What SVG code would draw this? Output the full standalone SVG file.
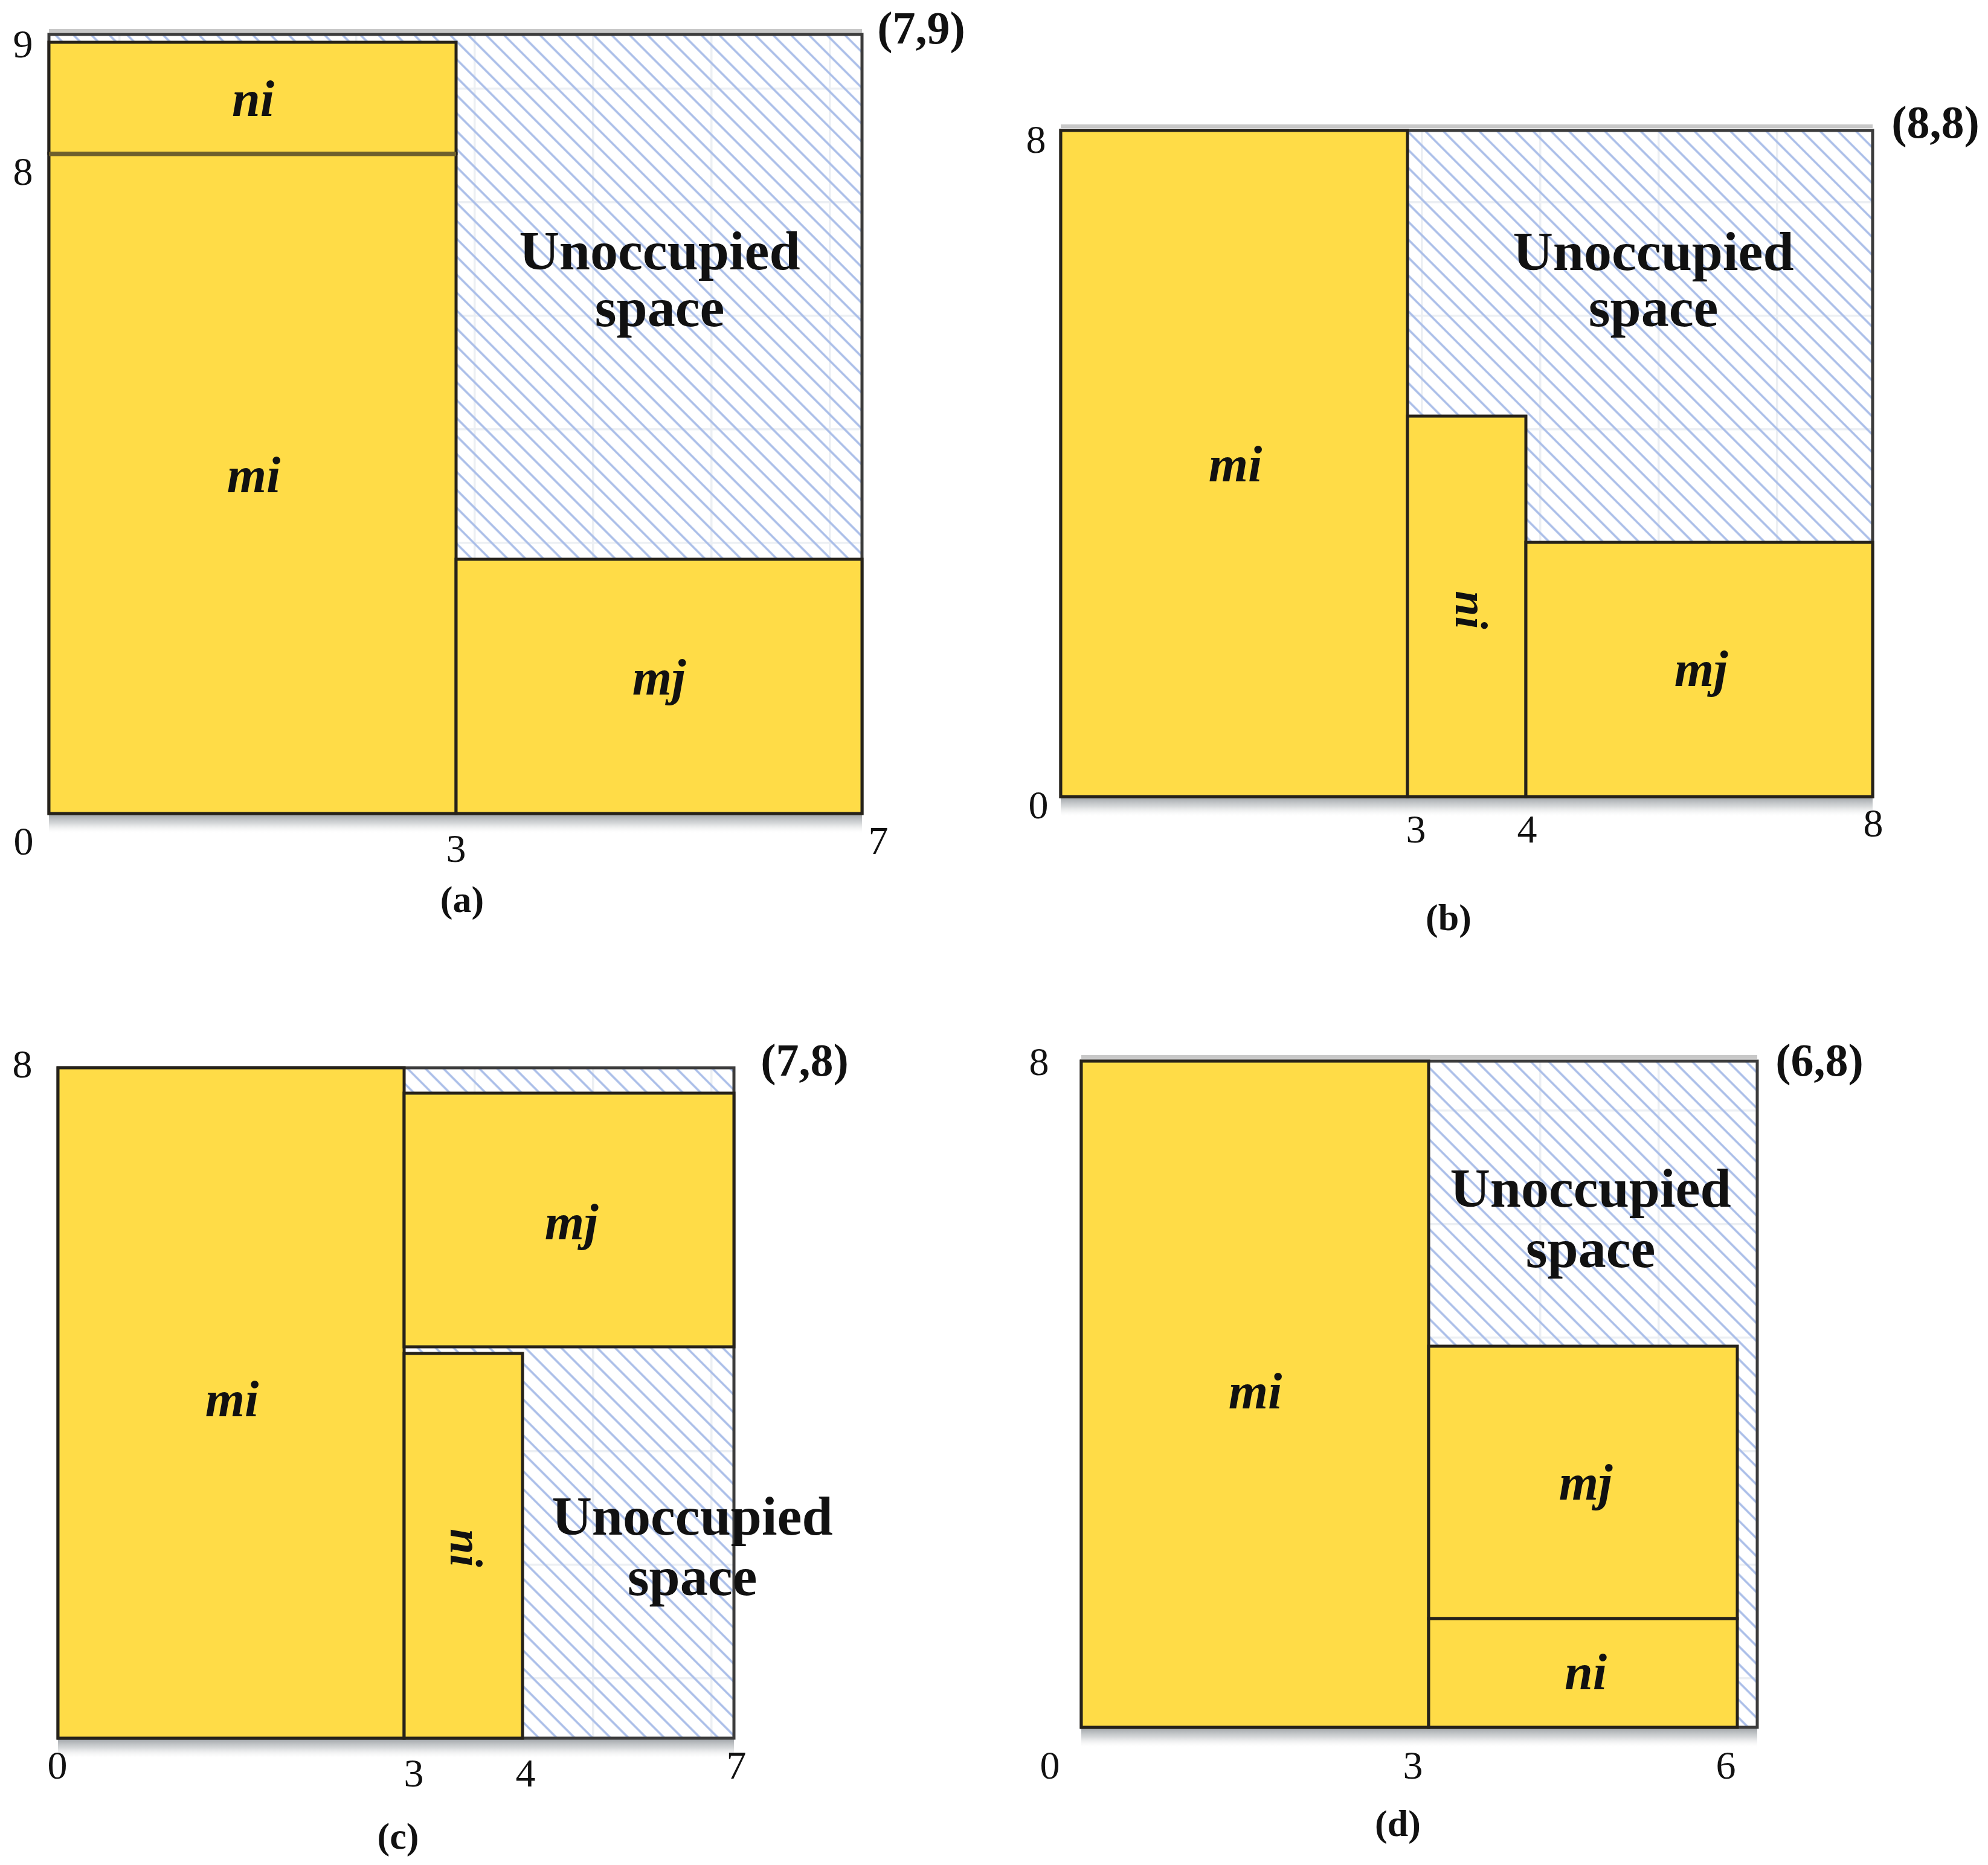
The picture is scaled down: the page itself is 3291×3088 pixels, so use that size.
<svg xmlns="http://www.w3.org/2000/svg" width="3291" height="3088" viewBox="0 0 3291 3088">
<style>
.bg{fill:#ffffff}
.grid{fill:url(#grid)}
.box{fill:url(#hatch);stroke:#3c3c3c;stroke-width:5}
.topline{stroke:#c8c8c8;stroke-width:6}
.shadow{fill:url(#shade)}
.item{fill:#FFDC47;stroke:#26221a;stroke-width:5}
.lbl{font-family:"Liberation Serif",serif;font-style:italic;font-weight:bold;font-size:84px;text-anchor:middle;fill:#111}
.unocc{font-family:"Liberation Serif",serif;font-weight:bold;font-size:92px;text-anchor:middle;fill:#111}
.ax{font-family:"Liberation Serif",serif;font-size:66px;text-anchor:middle;fill:#111}
.corner{font-family:"Liberation Serif",serif;font-weight:bold;font-size:76px;text-anchor:middle;fill:#111}
.cap{font-family:"Liberation Serif",serif;font-weight:bold;font-size:62px;text-anchor:middle;fill:#111}
</style>
<defs>
<pattern id="hatch" patternUnits="userSpaceOnUse" width="21" height="21" patternTransform="rotate(-45)">
<line x1="3" y1="-2" x2="3" y2="23" stroke="#a9bde8" stroke-width="3.5"/>
</pattern>
<pattern id="grid" patternUnits="userSpaceOnUse" width="196" height="188" x="0" y="-43">
<path d="M0 0H196M0 0V188" stroke="#eceff3" stroke-width="7" fill="none"/>
</pattern>
<linearGradient id="shade" x1="0" y1="0" x2="0" y2="1">
<stop offset="0" stop-color="#868c91" stop-opacity="0.85"/>
<stop offset="0.5" stop-color="#b9bdc0" stop-opacity="0.6"/>
<stop offset="1" stop-color="#e8e8e8" stop-opacity="0"/>
</linearGradient>
</defs>
<rect class="bg" x="0" y="0" width="3291" height="3088"/>

<g id="panel-a">
<rect class="shadow" x="81" y="1347" width="1346" height="32"/>
<line class="topline" x1="81" y1="51" x2="1427" y2="51"/>
<rect class="bg" x="81" y="57" width="1346" height="1290"/>
<rect class="grid" x="81" y="57" width="1346" height="1290"/>
<rect class="box" x="81" y="57" width="1346" height="1290"/>
<g id="a-mi"><rect class="item" x="81" y="254" width="674" height="1093"/><text class="lbl" x="420" y="815">mi</text></g>
<g id="a-ni"><rect class="item" x="81" y="70" width="674" height="184"/><text class="lbl" x="419" y="192">ni</text></g>
<line x1="81" y1="255" x2="755" y2="255" stroke="#6e5f2c" stroke-width="7"/>
<g id="a-mj"><rect class="item" x="755" y="926" width="672" height="421"/><text class="lbl" x="1091" y="1150">mj</text></g>
<g id="a-free"><text class="unocc" x="1092" y="446">Unoccupied</text><text class="unocc" x="1092" y="540">space</text></g>
<text class="ax" x="38" y="95">9</text>
<text class="ax" x="38" y="306">8</text>
<text class="ax" x="39" y="1415">0</text>
<text class="ax" x="755" y="1427">3</text>
<text class="ax" x="1454" y="1414">7</text>
<text class="corner" x="1525" y="72">(7,9)</text>
<text class="cap" x="765" y="1510">(a)</text>
</g>

<g id="panel-b">
<rect class="shadow" x="1756" y="1319" width="1344" height="32"/>
<line class="topline" x1="1756" y1="209" x2="3100" y2="209"/>
<rect class="bg" x="1756" y="216" width="1344" height="1103"/>
<rect class="grid" x="1756" y="216" width="1344" height="1103"/>
<rect class="box" x="1756" y="216" width="1344" height="1103"/>
<g id="b-mi"><rect class="item" x="1756" y="216" width="574" height="1103"/><text class="lbl" x="2045" y="797">mi</text></g>
<g id="b-ni"><rect class="item" x="2330" y="689" width="196" height="630"/><text class="lbl" transform="translate(2427,1010) rotate(90)" x="0" y="17" style="font-size:76px">ni</text></g>
<g id="b-mj"><rect class="item" x="2526" y="898" width="574" height="421"/><text class="lbl" x="2816" y="1136">mj</text></g>
<g id="b-free"><text class="unocc" x="2737" y="447">Unoccupied</text><text class="unocc" x="2737" y="540">space</text></g>
<text class="ax" x="1715" y="253">8</text>
<text class="ax" x="1719" y="1355">0</text>
<text class="ax" x="2344" y="1395">3</text>
<text class="ax" x="2528" y="1395">4</text>
<text class="ax" x="3101" y="1385">8</text>
<text class="corner" x="3204" y="228">(8,8)</text>
<text class="cap" x="2398" y="1540">(b)</text>
</g>

<g id="panel-c">
<rect class="shadow" x="96" y="2878" width="1119" height="32"/>
<rect class="bg" x="96" y="1768" width="1119" height="1110"/>
<rect class="grid" x="96" y="1768" width="1119" height="1110"/>
<rect class="box" x="96" y="1768" width="1119" height="1110"/>
<g id="c-mi"><rect class="item" x="96" y="1768" width="573" height="1110"/><text class="lbl" x="384" y="2345">mi</text></g>
<g id="c-mj"><rect class="item" x="669" y="1810" width="546" height="420"/><text class="lbl" x="946" y="2052">mj</text></g>
<g id="c-ni"><rect class="item" x="669" y="2241" width="196" height="637"/><text class="lbl" transform="translate(763,2563) rotate(90)" x="0" y="17" style="font-size:76px">ni</text></g>
<g id="c-free"><text class="unocc" x="1146" y="2541">Unoccupied</text><text class="unocc" x="1146" y="2641">space</text></g>
<text class="ax" x="37" y="1784">8</text>
<text class="ax" x="95" y="2945">0</text>
<text class="ax" x="685" y="2958">3</text>
<text class="ax" x="870" y="2958">4</text>
<text class="ax" x="1219" y="2945">7</text>
<text class="corner" x="1332" y="1781">(7,8)</text>
<text class="cap" x="659" y="3061">(c)</text>
</g>

<g id="panel-d">
<rect class="shadow" x="1790" y="2860" width="1119" height="32"/>
<line class="topline" x1="1790" y1="1750" x2="2909" y2="1750"/>
<rect class="bg" x="1790" y="1757" width="1119" height="1103"/>
<rect class="grid" x="1790" y="1757" width="1119" height="1103"/>
<rect class="box" x="1790" y="1757" width="1119" height="1103"/>
<g id="d-mi"><rect class="item" x="1790" y="1757" width="575" height="1103"/><text class="lbl" x="2078" y="2332">mi</text></g>
<g id="d-mj"><rect class="item" x="2365" y="2229" width="511" height="451"/><text class="lbl" x="2625" y="2483">mj</text></g>
<g id="d-ni"><rect class="item" x="2365" y="2680" width="511" height="180"/><text class="lbl" x="2625" y="2797">ni</text></g>
<g id="d-free"><text class="unocc" x="2633" y="1998">Unoccupied</text><text class="unocc" x="2633" y="2098">space</text></g>
<text class="ax" x="1720" y="1780">8</text>
<text class="ax" x="1738" y="2945">0</text>
<text class="ax" x="2339" y="2945">3</text>
<text class="ax" x="2857" y="2945">6</text>
<text class="corner" x="3012" y="1781">(6,8)</text>
<text class="cap" x="2314" y="3040">(d)</text>
</g>

<g id="connectors"></g>
</svg>
